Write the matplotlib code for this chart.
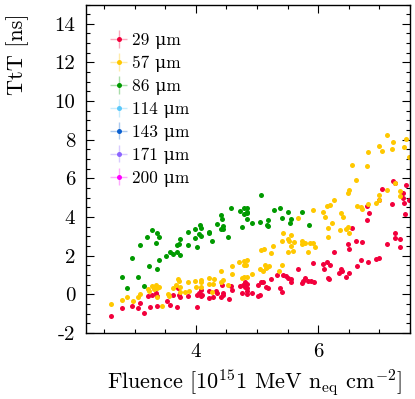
import matplotlib
matplotlib.use('Agg')
import matplotlib.pyplot as plt
from matplotlib.ticker import MultipleLocator

plt.rcParams['font.family'] = ['cmr10', 'DejaVu Serif']
plt.rcParams['mathtext.fontset'] = 'cm'
plt.rcParams['axes.unicode_minus'] = False
plt.rcParams['axes.formatter.use_mathtext'] = False

# thicknesses shown in the legend
labels = ['29 \u03bcm', '57 \u03bcm', '86 \u03bcm', '114 \u03bcm', '143 \u03bcm', '171 \u03bcm', '200 \u03bcm']
colors = ['#f2003c', '#ffc800', '#009a00', '#5ac8fa', '#0a60d0', '#8c64ff', '#ff00ff']

# 29 um
x_29 = [2.61, 2.79, 2.95, 3.06, 3.08, 3.16, 3.21, 3.25, 3.29, 3.35, 3.36, 3.37, 3.53, 3.57,
        3.62, 3.69, 3.71, 3.73, 3.74, 3.87, 4.02, 4.02, 4.05, 4.09, 4.10,
        7.22, 7.26, 7.44, 7.39, 7.04, 7.49, 7.20, 6.99, 7.40, 7.38, 7.42, 6.79, 6.83, 6.79,
        6.56, 7.26, 7.26, 7.34, 7.33, 7.13, 6.48, 6.51, 6.61, 6.72, 6.26, 6.99, 6.95, 6.82,
        6.70, 6.63, 5.91, 6.08, 6.15, 6.19, 6.10, 5.67, 6.16, 6.17, 6.37, 6.39, 6.34, 6.50,
        6.46, 5.42, 5.48, 5.51, 5.55, 5.56, 5.33, 5.78, 5.75, 5.73, 5.83, 5.88, 5.93, 5.23,
        5.06, 5.09, 5.14, 5.18, 5.01, 5.37, 5.41, 5.05, 5.02, 4.91, 4.84, 4.81, 4.83, 4.80,
        4.83, 4.77, 4.84, 4.72, 4.75, 4.58, 4.59, 4.54, 4.42, 4.45, 4.44, 4.41, 4.33, 4.34,
        4.28, 4.22, 4.21, 4.09]
y_29 = [-1.12, -0.71, -0.60, -0.71, -0.46, -0.98, -0.09, -0.67, -0.05, 0.05, -0.09, -0.59, -0.36, -0.54,
        -0.03, -0.64, 0.31, -0.03, -0.12, -0.07, -0.05, -0.64, 0.08, 0.22, -0.05,
        5.88, 5.74, 5.66, 5.26, 5.43, 4.88, 4.66, 4.88, 4.74, 4.97, 4.16, 4.57, 4.22, 3.85,
        3.43, 3.19, 2.93, 2.85, 2.45, 2.60, 2.60, 2.36, 2.74, 2.72, 2.21, 1.86, 1.81, 1.66,
        1.78, 1.48, 1.62, 1.57, 1.66, 1.50, 1.30, 1.30, 0.86, 0.78, 1.30, 1.21, 1.12, 1.09,
        0.91, 0.99, 0.95, 0.86, 0.78, 0.65, 0.99, 0.83, 0.67, 0.60, 0.69, 0.67, 0.62, 0.78,
        0.62, 0.65, 0.40, 0.33, 0.48, 0.33, 0.11, -0.03, -0.07, 0.08, 0.00, 0.65, 0.52, 0.40,
        0.34, 0.48, 0.19, 0.43, 0.08, 0.43, 0.22, -0.24, 0.48, 0.08, -0.03, -0.15, 0.17, 0.05,
        -0.12, -0.20, 0.17, -0.09]

# 57 um
x_57 = [2.61, 2.79, 2.88, 2.97, 3.06, 3.08, 3.21, 3.24, 3.29, 3.35, 3.37, 3.40, 3.32, 3.37,
        3.44, 3.54, 3.56, 3.62, 3.68, 3.71, 3.73, 3.74, 3.74, 3.82, 3.87, 3.89, 3.98, 4.00,
        4.08, 4.08,
        7.12, 7.23, 7.44, 6.99, 7.04, 7.20, 7.40, 7.49, 6.81, 6.56, 6.79, 6.61, 6.51, 6.48,
        7.26, 7.13, 7.00, 7.34, 7.33, 6.99, 6.95, 6.81, 6.63, 6.70, 6.72, 6.26, 6.19, 6.15,
        6.11, 6.07, 5.91, 5.67, 6.38, 6.40, 6.23, 6.16, 6.36, 6.46, 6.48, 6.50, 6.16, 5.43,
        5.56, 5.50, 5.52, 5.60, 5.41, 5.74, 5.79, 5.86, 5.91, 5.94, 5.73, 5.26, 5.55, 5.58,
        5.50, 5.06, 5.12, 5.23, 5.83, 4.59, 4.71, 4.79, 4.84, 4.82, 4.78, 5.13, 5.16, 5.19,
        5.14, 5.40, 5.05, 5.10, 5.36, 4.92, 4.84, 4.79, 4.75, 4.41, 4.59, 4.45, 4.41, 4.30,
        4.21, 4.09, 4.21, 4.28, 4.53, 4.27]
y_57 = [-0.48, -0.31, -0.14, -0.34, -0.14, 0.00, 0.28, 0.17, 0.45, 0.47, 0.31, 0.36, 0.28, -0.12,
        -0.59, 0.00, -0.07, 0.34, 0.50, 0.81, 0.69, 0.36, 0.14, 0.14, 0.62, 0.17, 0.71, 0.36,
        0.74, 0.40,
        8.24, 7.87, 8.02, 7.67, 7.42, 7.52, 7.62, 7.12, 7.38, 6.69, 6.62, 5.93, 5.40, 5.23,
        5.74, 5.40, 5.15, 5.36, 5.10, 4.88, 4.74, 4.66, 4.57, 4.53, 4.40, 4.88, 4.62, 4.57,
        4.02, 4.26, 4.36, 3.93, 4.22, 3.99, 3.68, 3.45, 3.33, 3.36, 3.47, 3.19, 2.98, 3.16,
        3.07, 2.85, 2.77, 2.71, 2.76, 2.77, 2.67, 2.64, 2.67, 2.46, 2.60, 2.50, 2.50, 2.26,
        2.21, 2.29, 2.33, 2.12, 2.19, 1.48, 1.66, 1.74, 1.78, 1.53, 1.50, 1.52, 1.43, 1.47,
        1.35, 1.50, 1.30, 1.22, 1.21, 1.05, 0.91, 0.88, 0.86, 1.19, 1.05, 0.74, 0.65, 0.79,
        0.83, 0.65, 0.52, 0.52, 0.47, 0.14]

# 86 um
x_86 = [2.79, 2.88, 2.95, 3.06, 3.08, 3.16, 3.20, 3.24, 3.29, 3.35, 3.36, 3.39, 3.39, 3.37,
        3.52, 3.58, 3.62, 3.69, 3.69, 3.73, 3.74, 3.74, 3.87, 3.87, 3.98, 3.99, 4.02, 4.05,
        4.07, 4.09, 4.09,
        5.06, 4.58, 4.72, 4.78, 4.84, 4.83, 4.79, 4.84, 5.27, 5.37, 5.50, 5.74, 4.41, 4.42,
        4.34, 4.45, 4.41, 4.45, 4.21, 4.22, 4.27, 4.53, 4.75, 4.84, 4.92, 5.05, 5.16, 5.18,
        5.18, 5.41, 5.56, 5.54, 5.85]
y_86 = [0.90, 0.33, 1.86, 0.88, 2.55, 0.43, 2.98, 1.47, 3.31, 2.64, 3.16, 2.98, 1.78, 1.30,
        2.00, 2.21, 2.07, 2.19, 2.55, 2.59, 2.02, 2.85, 3.23, 2.55, 3.36, 2.90, 2.45, 3.11,
        3.57, 3.45, 3.03,
        5.14, 4.48, 4.31, 4.48, 4.48, 4.28, 4.14, 4.19, 4.35, 4.45, 4.28, 4.26, 4.10, 3.88,
        3.62, 3.54, 3.36, 3.36, 3.24, 3.16, 2.77, 2.95, 3.50, 3.90, 3.68, 3.73, 3.59, 3.54,
        3.83, 3.93, 3.88, 3.71, 3.59]

series_x = [x_29, x_57, x_86, [], [], [], []]
series_y = [y_29, y_57, y_86, [], [], [], []]

fig = plt.figure(figsize=(4.15, 3.99), dpi=100)
ax = fig.add_axes([0.2065, 0.1654, 0.7815, 0.8233])

for xs, ys, c, lab in zip(series_x, series_y, colors, labels):
    ax.errorbar(xs, ys, xerr=[0] * len(xs), yerr=[0] * len(ys), fmt='o', ms=3.6,
                color=c, mew=0, ecolor=c + '55', elinewidth=1.0, label=lab)

ax.set_xlim(2.2, 7.5)
ax.set_ylim(-2, 15)
ax.xaxis.set_major_locator(MultipleLocator(2))
ax.xaxis.set_minor_locator(MultipleLocator(0.5))
ax.yaxis.set_major_locator(MultipleLocator(2))
ax.yaxis.set_minor_locator(MultipleLocator(0.5))
ax.tick_params(which='both', direction='in', top=True, right=True, labelsize=15, width=0.8)
ax.tick_params(which='major', length=6, pad=7.5)
ax.tick_params(which='minor', length=3)
for s in ax.spines.values():
    s.set_linewidth(1.0)

ax.set_xlabel(r'Fluence [$10^{15}$1 MeV n$_{\mathrm{eq}}$ cm$^{-2}$]', fontsize=16, loc='right')
ax.xaxis.label.set_x(0.974)
ax.set_ylabel('TtT [ns]', fontsize=16, loc='top')
ax.yaxis.set_label_coords(-0.175, 0.974)

ax.legend(loc='upper left', bbox_to_anchor=(0.053, 0.935), borderaxespad=0, frameon=False,
          fontsize=12.5, handlelength=1.0, handletextpad=0.3, labelspacing=0.38)

fig.savefig('out.png', dpi=100)
